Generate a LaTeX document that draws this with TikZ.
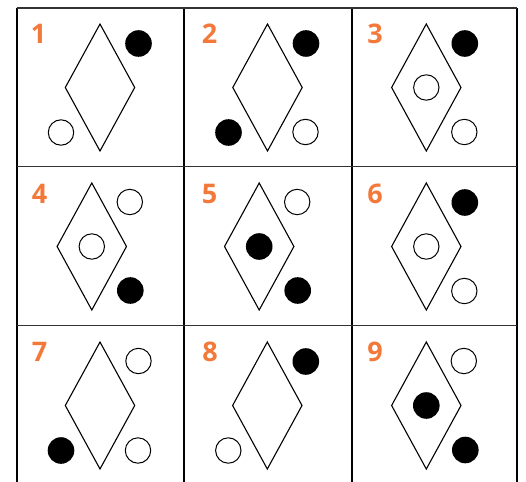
\documentclass[tikz,border=0pt]{standalone}
\usepackage{fontspec}
\setmainfont{Open Sans}
\definecolor{numorange}{RGB}{243,121,58}
\begin{document}
\begin{tikzpicture}[x=1pt,y=-1pt,
  vline/.style={line width=1.8pt,black},
  hline/.style={line width=1.1pt,black!80},
  rhomb/.style={line width=1.1pt,black,line join=miter},
  opendot/.style={circle,draw=black,line width=1pt,fill=white,minimum size=25.4pt,inner sep=0pt},
  fulldot/.style={circle,fill=black,minimum size=26.6pt,inner sep=0pt},
  numlabel/.style={font=\fontsize{27}{27}\selectfont\bfseries,text=numorange,anchor=base,inner sep=0pt}]
\useasboundingbox (0,0) rectangle (526,481);
% grid
\foreach \x/\n in {16.7/a,184/b,351.7/c,516.7/d}{
  \coordinate (vt\n) at (\x,8);
  \coordinate (vb\n) at (\x,483);
  \draw[vline] (vt\n) -- (vb\n);
}
\foreach \y/\n in {8/a,166.7/b,325.7/c}{
  \coordinate (hl\n) at (16.7,\y);
  \coordinate (hr\n) at (516.7,\y);
  \draw[hline] (hl\n) -- (hr\n);
}
% diamonds
\foreach \cx/\cy/\n in {100/87.5/1,267.5/87.5/2,426.3/87.5/3,91.8/246.5/4,259.2/246.5/5,426.3/246.5/6,100/405.5/7,267.3/405.5/8,426.3/405.5/9}{
  \coordinate (d\n) at (\cx,\cy);
  \draw[rhomb] ([yshift=63.5pt]d\n) -- ([xshift=34.7pt]d\n) -- ([yshift=-63.5pt]d\n) -- ([xshift=-34.7pt]d\n) -- cycle;
}
% labels
\node[numlabel] (n1) at (38.5,43.3) {1};
\node[numlabel] (n2) at (209.5,43.3) {2};
\node[numlabel] (n3) at (375,43.3) {3};
\node[numlabel] (n4) at (39.5,203) {4};
\node[numlabel] (n5) at (209.5,203) {5};
\node[numlabel] (n6) at (375,203) {6};
\node[numlabel] (n7) at (39.5,361.7) {7};
\node[numlabel] (n8) at (210,361.7) {8};
\node[numlabel] (n9) at (375,361.7) {9};
% circles: TR (+38.5,-44), BR (+38,+44.5), BL (-39,+45), C (0,0)
% cell 1
\node[fulldot] (c1tr) at ([shift={(38.5,-44)}]d1) {};
\node[opendot] (c1bl) at ([shift={(-39,45)}]d1) {};
% cell 2
\node[fulldot] (c2tr) at ([shift={(38.5,-44)}]d2) {};
\node[fulldot] (c2bl) at ([shift={(-39,45)}]d2) {};
\node[opendot] (c2br) at ([shift={(38,44.5)}]d2) {};
% cell 3
\node[fulldot] (c3tr) at ([shift={(38.5,-44)}]d3) {};
\node[opendot] (c3c) at (d3) {};
\node[opendot] (c3br) at ([shift={(38,44.5)}]d3) {};
% cell 4
\node[opendot] (c4tr) at ([shift={(38,-44.5)}]d4) {};
\node[opendot] (c4c) at (d4) {};
\node[fulldot] (c4br) at ([shift={(38.5,44)}]d4) {};
% cell 5
\node[opendot] (c5tr) at ([shift={(38,-44.5)}]d5) {};
\node[fulldot] (c5c) at (d5) {};
\node[fulldot] (c5br) at ([shift={(38.5,44)}]d5) {};
% cell 6
\node[fulldot] (c6tr) at ([shift={(38.5,-44)}]d6) {};
\node[opendot] (c6c) at (d6) {};
\node[opendot] (c6br) at ([shift={(38,44.5)}]d6) {};
% cell 7
\node[opendot] (c7tr) at ([shift={(38.5,-44.5)}]d7) {};
\node[fulldot] (c7bl) at ([shift={(-39,45)}]d7) {};
\node[opendot] (c7br) at ([shift={(38,45)}]d7) {};
% cell 8
\node[fulldot] (c8tr) at ([shift={(38.5,-44)}]d8) {};
\node[opendot] (c8bl) at ([shift={(-39,45)}]d8) {};
% cell 9
\node[opendot] (c9tr) at ([shift={(37.5,-44.5)}]d9) {};
\node[fulldot] (c9c) at (d9) {};
\node[fulldot] (c9br) at ([shift={(39,44.5)}]d9) {};
\end{tikzpicture}
\end{document}
